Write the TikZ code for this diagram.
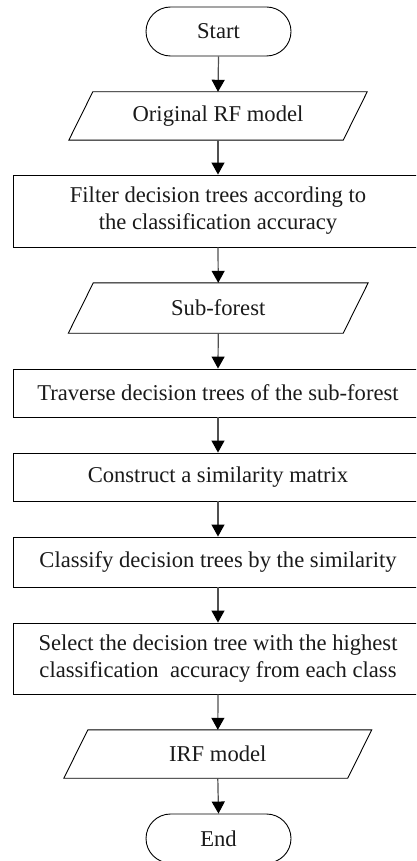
\documentclass[tikz,border=0pt]{standalone}
\usepackage{fontspec}
\setmainfont{Liberation Serif}
\usetikzlibrary{arrows.meta}
\definecolor{linegray}{HTML}{505050}
\definecolor{textgray}{HTML}{1A1A1A}
\tikzset{
  base/.style={inner sep=0pt, align=center, text=textgray,
    font=\fontsize{22.6}{27}\selectfont},
  procbox/.style={base, draw=black, line width=0.9pt, rectangle,
    minimum width=410pt},
  termbox/.style={base, draw=black, line width=0.9pt, rectangle,
    minimum width=145pt, minimum height=49pt, rounded corners=24.5pt},
  iobox/.style={base, rectangle, minimum height=48pt},
  iodraw/.style={draw=black, line width=0.9pt, line join=miter},
  flow/.style={draw=linegray, line width=1.2pt,
    -{Triangle[width=13pt,length=12pt,fill=black,color=black]}}
}
\newcommand{\paraoutline}[2]{%
  \draw[iodraw] ([xshift=#2]#1.north west) -- ([xshift=#2]#1.north east)
    -- ([xshift=-#2]#1.south east) -- ([xshift=-#2]#1.south west) -- cycle;}
\begin{document}
\begin{tikzpicture}[x=1pt,y=-1pt]
\useasboundingbox (0,0) rectangle (416,861);
\clip (0,0) rectangle (416,861);
\fill[white] (0,0) rectangle (416,861);

\node[termbox] (start) at (218.5,31.5) {Start};
\node[iobox, minimum width=274pt] (orig) at (218,116) {Original RF model};
\paraoutline{orig}{12pt}
\node[procbox, minimum height=72pt] (filter) at (218,211)
  {Filter decision trees according to\\the classification accuracy};
\node[iobox, minimum width=274.5pt, minimum height=50pt] (sub) at (218.25,308) {Sub-forest};
\paraoutline{sub}{12.5pt}
\node[procbox, minimum height=48pt] (trav) at (218,393)
  {Traverse decision trees of the sub-forest};
\node[procbox, minimum height=48pt] (cons) at (218,477)
  {Construct a similarity matrix};
\node[procbox, minimum height=50pt] (clas) at (218,562)
  {Classify decision trees by the similarity};
\node[procbox, minimum height=71pt] (sel) at (218,658.5)
  {Select the decision tree with the highest\\classification\ \ accuracy from each class};
\node[iobox, minimum width=283.5pt] (irf) at (217.8,754) {IRF model};
\paraoutline{irf}{12pt}
\node[termbox] (end) at (218.5,838.5) {End};

\draw[flow] (start.south) -- (orig.north);
\draw[flow] (orig.south) -- (filter.north);
\draw[flow] (filter.south) -- (sub.north);
\draw[flow] (sub.south) -- (trav.north);
\draw[flow] (trav.south) -- (cons.north);
\draw[flow] (cons.south) -- (clas.north);
\draw[flow] (clas.south) -- (sel.north);
\draw[flow] (sel.south) -- (irf.north);
\draw[flow] (irf.south) -- (end.north);
\end{tikzpicture}
\end{document}
